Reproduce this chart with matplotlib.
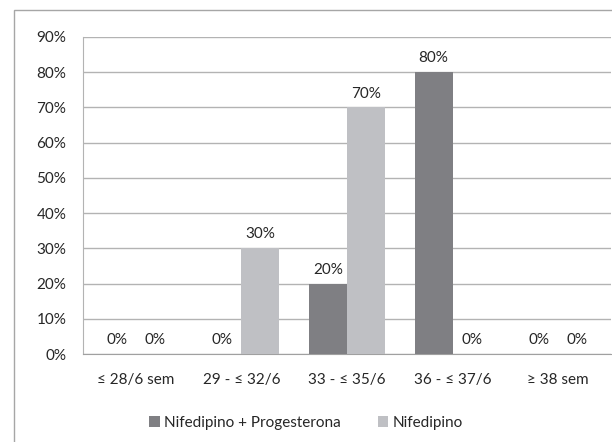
import matplotlib
matplotlib.use("Agg")
import matplotlib.pyplot as plt
import numpy as np
from matplotlib.patches import Rectangle

plt.rcParams['font.family'] = ['Lato', 'DejaVu Sans']

# semanas de gestação no parto
categorias = ['≤ 28/6 sem', '29 - ≤ 32/6', '33 - ≤ 35/6', '36 - ≤ 37/6', '≥ 38 sem']
nif_prog = [0, 0, 20, 80, 0]
nif = [0, 30, 70, 0, 0]
series = ['Nifedipino + Progesterona', 'Nifedipino']

cor_escura = '#7f7f83'
cor_clara = '#bfc0c4'
cor_grade = '#b3b3b3'
cor_texto = '#262626'
fs = 11

W, H = 612, 442
fig = plt.figure(figsize=(W / 100, H / 100), dpi=100)
ax = fig.add_axes([83 / W, 1 - 354 / H, (611 - 83) / W, (354 - 37) / H])

# moldura externa do gráfico
fig.patches.append(Rectangle((14 / W, -0.1), 1.2, 1 - 10 / H + 0.1,
                             transform=fig.transFigure, fill=False,
                             edgecolor='#a6a6a6', linewidth=1.0, zorder=0))

x = np.arange(len(categorias))
w = 0.36
b1 = ax.bar(x - w / 2, nif_prog, w, color=cor_escura, label=series[0], zorder=3)
b2 = ax.bar(x + w / 2, nif, w, color=cor_clara, label=series[1], zorder=3)

for barras, vals in [(b1, nif_prog), (b2, nif)]:
    for r, v in zip(barras, vals):
        ax.annotate('{}%'.format(v), (r.get_x() + r.get_width() / 2, v),
                    xytext=(0, 5), textcoords='offset points',
                    ha='center', va='bottom', fontsize=fs, color=cor_texto)

ax.set_ylim(0, 90)
ax.set_xlim(-0.5, len(categorias) - 0.5)
ax.set_yticks(np.arange(0, 91, 10))
ax.set_yticklabels(['{}%'.format(v) for v in range(0, 91, 10)])
ax.set_xticks(x)
ax.set_xticklabels(categorias)
ax.tick_params(axis='both', length=0, labelsize=fs, colors=cor_texto)
ax.tick_params(axis='y', pad=12)
ax.tick_params(axis='x', pad=14)

ax.yaxis.grid(True, color=cor_grade, linewidth=1.0, zorder=0)
ax.set_axisbelow(True)
for lado in ['top', 'right']:
    ax.spines[lado].set_visible(False)
ax.spines['left'].set_color(cor_grade)
ax.spines['bottom'].set_color('#a0a0a0')

fig.legend(handles=[b1, b2], labels=series, loc='center',
           bbox_to_anchor=(0.5, 1 - 423 / H), ncol=2, frameon=False,
           fontsize=fs, handlelength=0.7, handleheight=0.7,
           handletextpad=0.3, columnspacing=2.4, labelcolor=cor_texto)

fig.savefig('out.png', dpi=100)
